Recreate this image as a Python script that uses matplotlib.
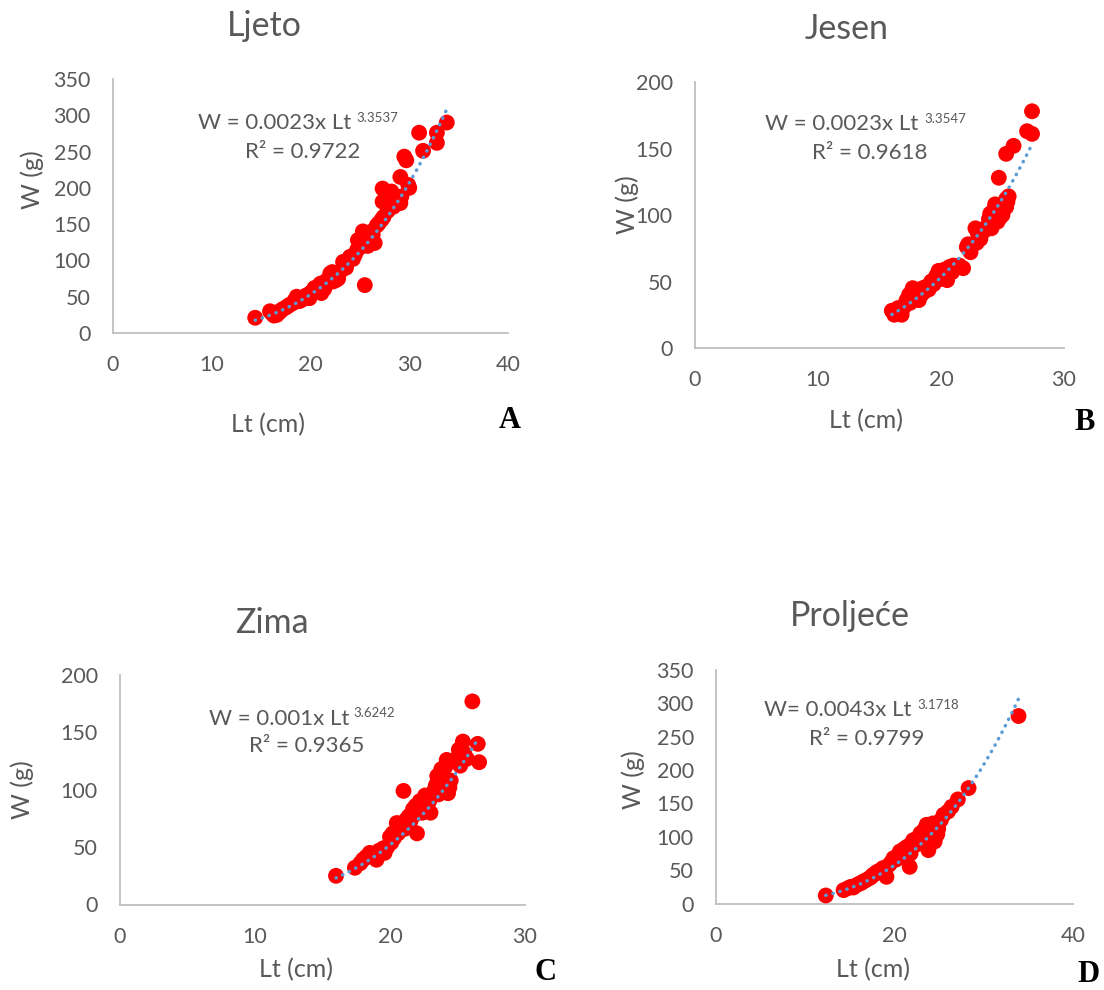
import numpy as np
import matplotlib
matplotlib.use("Agg")
import matplotlib.pyplot as plt

# ---------------------------------------------------------------------------
# Data
# ---------------------------------------------------------------------------

# A - Ljeto
ljeto_lt = [14.4, 15.9, 16.1, 16.3, 16.6, 16.9, 17.2, 17.5, 17.9, 18.2, 18.6, 18.9,
            19.1, 19.4, 19.6, 19.9, 20.1, 20.3, 20.6, 20.8, 21.0, 21.1, 21.3, 21.6,
            21.8, 22.0, 22.3, 22.5, 22.8, 23.1, 23.3, 23.6, 24.0, 24.3, 24.7, 24.8,
            25.0, 25.3, 25.5, 25.6, 25.9, 26.0, 26.3, 26.5, 26.9, 27.2, 27.4, 27.3,
            27.3, 27.8, 28.2, 28.4, 28.8, 29.1, 29.2, 29.1, 29.5, 29.7, 29.9, 30.0,
            31.0, 31.4, 32.8, 32.8, 33.8,
            16.4, 17.0, 17.7, 18.4, 19.3, 20.0, 20.4, 21.4, 21.9, 22.2, 22.6, 23.4,
            23.8, 24.5, 25.1, 25.4, 25.8, 26.2, 26.7, 28.0, 28.6]
ljeto_w = [21, 30, 27, 24, 25, 29, 33, 35, 39, 41, 50, 44,
           46, 50, 52, 48, 56, 59, 57, 63, 68, 55, 66, 72,
           70, 82, 71, 78, 75, 86, 98, 90, 105, 102, 114, 128,
           118, 140, 66, 124, 130, 133, 136, 124, 151, 156, 160, 181,
           199, 168, 195, 174, 186, 179, 188, 215, 243, 238, 204, 200,
           276, 251, 276, 262, 290,
           28, 31, 37, 45, 47, 55, 62, 61, 76, 84, 73, 92,
           100, 108, 126, 134, 120, 140, 148, 176, 183]

# B - Jesen
jesen_lt = [16.0, 16.2, 16.5, 16.8, 17.0, 17.2, 17.5, 17.7, 17.9, 18.2, 18.4, 18.6,
            18.8, 19.0, 19.2, 19.4, 19.6, 19.8, 20.0, 20.2, 20.5, 20.7, 20.9, 21.2,
            21.5, 21.8, 22.1, 22.4, 22.8, 22.9, 23.2, 23.5, 23.7, 24.0, 24.1, 24.3,
            24.4, 24.6, 24.7, 24.8, 25.0, 25.3, 25.5, 25.3, 25.3, 25.9, 27.0, 27.4,
            27.4,
            16.4, 17.1, 17.4, 18.0, 18.5, 19.1, 19.5, 19.9, 20.3, 20.6, 21.0, 22.2,
            23.0, 23.9, 24.2, 24.5, 24.9, 25.4]
jesen_w = [28, 25, 30, 25, 31, 36, 34, 45, 38, 36, 40, 42,
           46, 44, 50, 48, 54, 58, 52, 56, 51, 61, 57, 60,
           62, 60, 76, 72, 90, 79, 82, 88, 91, 101, 90, 104,
           108, 95, 128, 98, 100, 106, 114, 112, 146, 152, 163, 161,
           178,
           27, 33, 40, 41, 45, 48, 51, 55, 59, 56, 62, 78,
           86, 97, 95, 100, 105, 110]

# C - Zima
zima_lt = [16.0, 17.4, 17.8, 18.0, 18.3, 18.5, 18.7, 19.0, 19.2, 19.4, 19.6, 19.8,
           20.0, 20.1, 20.3, 20.5, 20.6, 20.8, 21.0, 21.0, 21.2, 21.3, 21.5, 21.7,
           21.8, 22.0, 22.0, 22.2, 22.3, 22.5, 22.7, 22.8, 23.0, 23.1, 23.2, 23.3,
           23.5, 23.5, 23.6, 23.8, 23.9, 24.0, 24.2, 24.2, 24.3, 24.4, 25.1, 25.2,
           25.4, 25.7, 26.1, 26.5, 26.6,
           18.2, 18.9, 19.5, 20.2, 20.7, 21.1, 21.4, 21.9, 22.4, 22.6, 22.9, 23.4,
           23.7, 24.1, 24.5, 25.0, 25.5]
zima_w = [25, 32, 36, 39, 42, 45, 43, 39, 47, 46, 45, 50,
          59, 54, 58, 71, 62, 66, 99, 68, 74, 70, 72, 83,
          78, 62, 80, 90, 84, 86, 92, 88, 80, 94, 97, 100,
          112, 105, 96, 118, 108, 100, 126, 106, 97, 102, 135, 121,
          142, 127, 177, 140, 124,
          41, 44, 49, 62, 69, 66, 77, 86, 80, 95, 90, 104,
          114, 120, 108, 128, 132]

# D - Proljeće
proljece_lt = [12.3, 14.3, 14.8, 15.1, 15.4, 15.8, 16.1, 16.5, 16.8, 17.2, 17.6, 17.9,
               18.3, 18.7, 19.1, 19.4, 19.9, 20.2, 20.6, 20.9, 21.1, 21.4, 21.7, 21.8,
               22.1, 22.4, 22.6, 22.9, 23.2, 23.6, 23.8, 23.9, 24.1, 24.3, 24.5, 24.7,
               24.8, 25.5, 26.4, 27.1, 28.3, 33.9,
               16.3, 17.4, 18.0, 18.5, 19.7, 20.4, 21.0, 21.9, 22.3, 22.8, 23.3, 23.7,
               24.2, 24.6, 24.9, 25.2, 26.0]
proljece_w = [12, 20, 23, 25, 24, 28, 30, 33, 35, 38, 43, 45,
              49, 53, 40, 58, 68, 66, 78, 72, 82, 85, 55, 75,
              95, 88, 96, 105, 100, 118, 80, 112, 108, 120, 93, 110,
              104, 133, 145, 156, 173, 281,
              31, 40, 47, 50, 63, 70, 80, 90, 92, 98, 110, 104,
              115, 100, 112, 125, 138]

# Trendline coefficients as printed on the chart: W = a * Lt^b
titles = ["Ljeto", "Jesen", "Zima", "Proljeće"]
panel_letters = ["A", "B", "C", "D"]
coef_a = [0.0023, 0.0023, 0.001, 0.0043]
coef_b = [3.3537, 3.3547, 3.6242, 3.1718]
eq_main = ["W = 0.0023x Lt", "W = 0.0023x Lt", "W = 0.001x Lt", "W= 0.0043x Lt"]
eq_exp = ["3.3537", "3.3547", "3.6242", "3.1718"]
r2_text = ["R² = 0.9722", "R² = 0.9618", "R² = 0.9365", "R² = 0.9799"]
x_max = [40, 30, 30, 40]
x_step = [10, 10, 10, 20]
y_max = [350, 200, 200, 350]
y_step = [50, 50, 50, 50]

# ---------------------------------------------------------------------------
# Layout (pixel positions in a 1104x990 canvas)
# ---------------------------------------------------------------------------
W_PX, H_PX = 1104, 990
TEXT_C = "#595959"
FONT = "Lato"

# (left, top, right, bottom) of each plot area
axes_px = [(113, 79, 508, 333), (695, 82, 1064, 348),
           (120, 675, 525, 904.5), (716, 670, 1073, 903.5)]
title_px = [(264, 36), (847, 39), (272, 633), (850, 626)]
xlabel_px = [(268, 425), (866, 421), (296, 970), (873, 970)]
ylabel_px = [(32, 180), (627, 205), (22, 790), (633, 780)]
letter_px = [(510, 420), (1085, 422), (545, 973), (1088, 975)]
# equation: main right end/baseline, exponent left/baseline, R2 center/baseline
eq_px = [((351, 129), (356, 121.5), (303, 158)),
         ((918, 130), (924, 123), (870, 159)),
         ((349, 725), (353, 717), (307, 752)),
         ((912, 716.5), (917, 709), (867, 745))]


def fx(x):
    return x / W_PX


def fy(y):
    return 1 - y / H_PX


plt.rcParams["font.family"] = [FONT, "DejaVu Sans"]

fig = plt.figure(figsize=(W_PX / 100, H_PX / 100), dpi=100)
fig.patch.set_facecolor("white")

series = [(ljeto_lt, ljeto_w), (jesen_lt, jesen_w),
          (zima_lt, zima_w), (proljece_lt, proljece_w)]

for i, (lt, w) in enumerate(series):
    l, t, r, b = axes_px[i]
    ax = fig.add_axes([fx(l), fy(b), (r - l) / W_PX, (b - t) / H_PX])
    ax.scatter(lt, w, s=130, color="#FF0000", edgecolors="none", zorder=3)

    # power trendline from the printed coefficients
    xs = np.linspace(min(lt), max(lt), 200)
    ax.plot(xs, coef_a[i] * xs ** coef_b[i], color="#5B9BD5", lw=2.5,
            linestyle=(0, (0.1, 2.0)), dash_capstyle="round", zorder=4)

    ax.set_xlim(0, x_max[i])
    ax.set_ylim(0, y_max[i])
    ax.set_xticks(np.arange(0, x_max[i] + 1, x_step[i]))
    ax.set_yticks(np.arange(0, y_max[i] + 1, y_step[i]))
    ax.tick_params(length=0, labelsize=15.5, labelcolor=TEXT_C)
    ax.tick_params(axis="x", pad=16)
    ax.tick_params(axis="y", pad=16)
    for side in ["top", "right"]:
        ax.spines[side].set_visible(False)
    for side in ["left", "bottom"]:
        ax.spines[side].set_color("#BFBFBF")
        ax.spines[side].set_linewidth(1.3)
    ax.patch.set_alpha(0)

    # texts
    tx, ty = title_px[i]
    fig.text(fx(tx), fy(ty), titles[i], fontsize=24.5, color=TEXT_C,
             ha="center", va="baseline")
    lx, ly = xlabel_px[i]
    fig.text(fx(lx), fy(ly), "Lt (cm)", fontsize=18, color=TEXT_C,
             ha="center", va="center")
    yx, yy = ylabel_px[i]
    fig.text(fx(yx), fy(yy), "W (g)", fontsize=18, color=TEXT_C,
             ha="center", va="center", rotation=90)
    px_, py_ = letter_px[i]
    fig.text(fx(px_), fy(py_), panel_letters[i], fontsize=22, fontweight="bold",
             family="Liberation Serif", color="black", ha="center", va="center")

    (mx, my), (ex, ey), (rx, ry) = eq_px[i]
    fig.text(fx(mx), fy(my), eq_main[i], fontsize=16, color=TEXT_C,
             ha="right", va="baseline")
    fig.text(fx(ex), fy(ey), eq_exp[i], fontsize=9.5, color=TEXT_C,
             ha="left", va="baseline")
    fig.text(fx(rx), fy(ry), r2_text[i], fontsize=16, color=TEXT_C,
             ha="center", va="baseline")

fig.savefig("out.png", dpi=100)
